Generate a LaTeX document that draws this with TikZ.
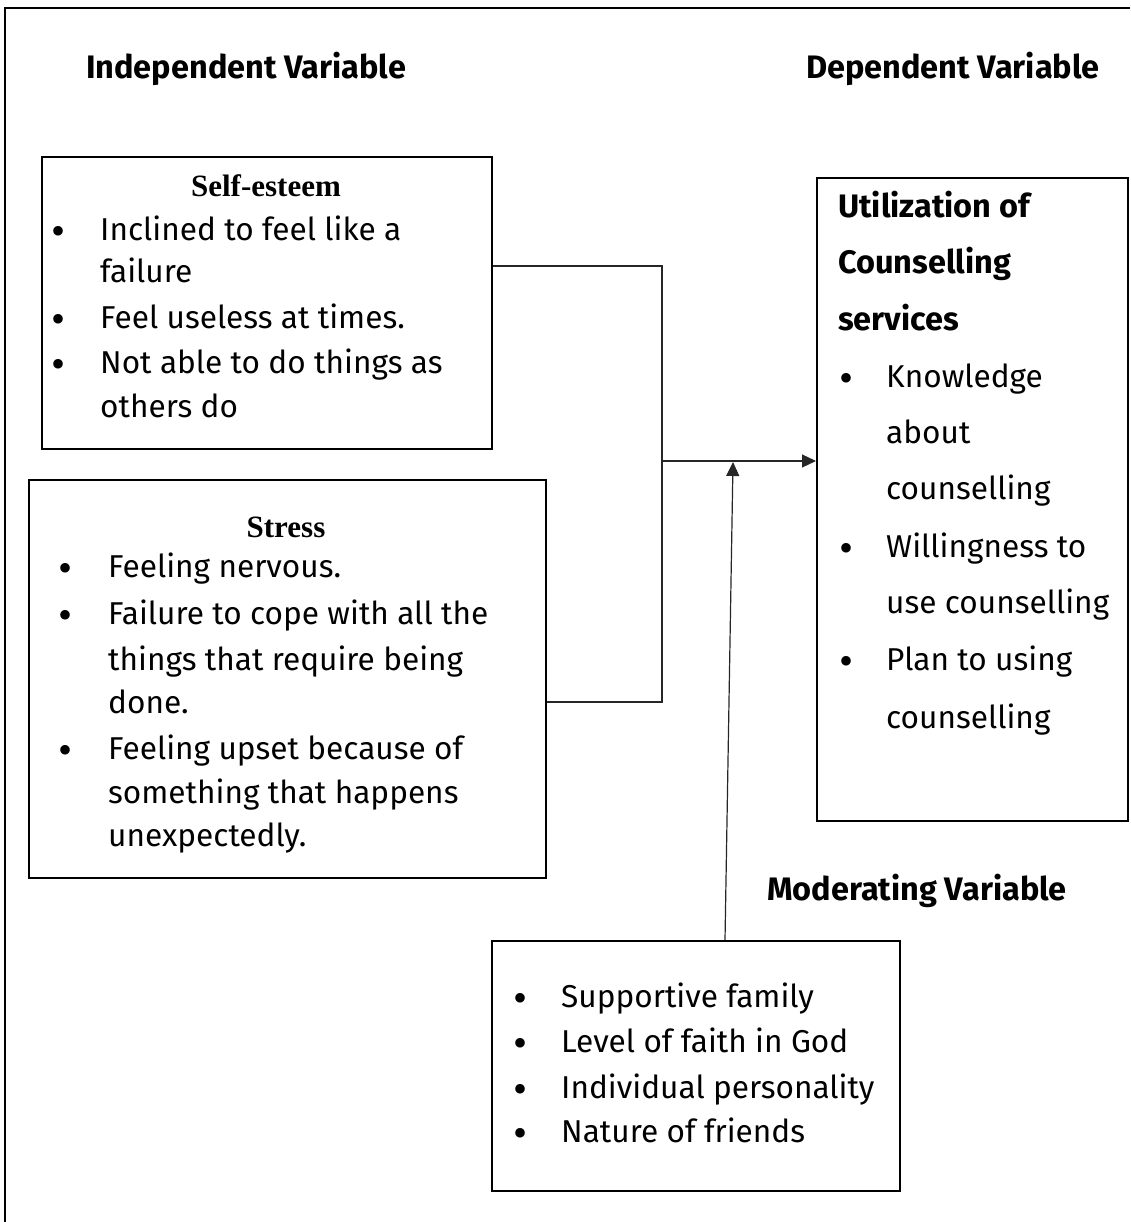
\documentclass[tikz,border=0pt]{standalone}
\usepackage{fontspec}
\setmainfont{Fira Sans}
\newfontfamily\tnr{Liberation Serif}
\usetikzlibrary{arrows.meta}
\newcommand\bodyfont{\fontsize{31.6}{36}\selectfont}
\newcommand\headfont{\fontsize{32.5}{36}\selectfont\bfseries}
\newcommand\titlefont{\fontsize{31}{36}\selectfont\tnr\bfseries}
\newcommand\bulfont{\fontsize{40}{40}\selectfont\tnr}
\tikzset{
  box/.style={draw, line width=2pt, anchor=north west, inner sep=0pt},
  txt/.style={anchor=base west, inner sep=0pt, font=\bodyfont},
  hd/.style={anchor=base west, inner sep=0pt, font=\headfont},
  ttl/.style={anchor=base, inner sep=0pt, font=\titlefont},
  bul/.style={anchor=base, inner sep=0pt, font=\bulfont, yshift=-4pt},
  link/.style={line width=1.2pt, draw=black!85},
  tip/.style={-{Triangle[length=14pt,width=13pt]}}
}
\begin{document}
\begin{tikzpicture}[x=1pt,y=-1pt]
\useasboundingbox (0,0) rectangle (1130,1222);
% outer frame (top and left edges)
\draw[line width=1.5pt] (5,1222) -- (5,8) -- (1130,8);

% headings
\node[hd] (hind) at (86,79) {Independent Variable};
\node[hd] (hdep) at (806,79) {Dependent Variable};
\node[hd] (hmod) at (767,900) {Moderating Variable};

% Self-esteem box
\node[box, minimum width=450pt, minimum height=292pt] (se) at (41,156) {};
\node[ttl] (set) at (266,197) {Self-esteem};
\node[bul] (seb1) at (59,241) {•};
\node[txt] (se1) at (100,241) {Inclined to feel like a};
\node[txt] (se2) at (100,283) {failure};
\node[bul] (seb2) at (59,328) {•};
\node[txt] (se3) at (100,328) {Feel useless at times.};
\node[bul] (seb3) at (59,373) {•};
\node[txt] (se4) at (100,373) {Not able to do things as};
\node[txt] (se5) at (100,417) {others do};

% Stress box
\node[box, minimum width=517pt, minimum height=398pt] (st) at (28,479) {};
\node[ttl] (stt) at (286,537) {Stress};
\node[bul] (stb1) at (66,577) {•};
\node[txt] (st1) at (108,577) {Feeling nervous.};
\node[bul] (stb2) at (66,624) {•};
\node[txt] (st2) at (108,624) {Failure to cope with all the};
\node[txt] (st3) at (108,670) {things that require being};
\node[txt] (st4) at (108,713) {done.};
\node[bul] (stb3) at (66,759) {•};
\node[txt] (st5) at (108,759) {Feeling upset because of};
\node[txt] (st6) at (108,803) {something that happens};
\node[txt] (st7) at (108,846) {unexpectedly.};

% Utilization box
\node[box, minimum width=311pt, minimum height=643pt] (ut) at (816,177) {};
\node[hd] (ut1) at (838,218) {Utilization of};
\node[hd] (ut2) at (838,274) {Counselling};
\node[hd] (ut3) at (838,330) {services};
\node[bul] (utb1) at (846,387) {•};
\node[txt] (ut4) at (886,387) {Knowledge};
\node[txt] (ut5) at (886,443) {about};
\node[txt] (ut6) at (886,499) {counselling};
\node[bul] (utb2) at (846,557) {•};
\node[txt] (ut7) at (886,557) {Willingness to};
\node[txt] (ut8) at (886,613) {use counselling};
\node[bul] (utb3) at (846,670) {•};
\node[txt] (ut9) at (886,670) {Plan to using};
\node[txt] (ut10) at (886,728) {counselling};

% Moderating box
\node[box, minimum width=408pt, minimum height=250pt] (md) at (491,940) {};
\node[bul] (mdb1) at (520,1007) {•};
\node[txt] (md1) at (561,1007) {Supportive family};
\node[bul] (mdb2) at (520,1052) {•};
\node[txt] (md2) at (561,1052) {Level of faith in God};
\node[bul] (mdb3) at (520,1098) {•};
\node[txt] (md3) at (561,1098) {Individual personality};
\node[bul] (mdb4) at (520,1142) {•};
\node[txt] (md4) at (561,1142) {Nature of friends};

% connectors
\coordinate (jn) at (662,461);
\coordinate (mt) at (733,462);
\draw[link] ([yshift=-110pt]se.north east) -| (jn);
\draw[link] ([yshift=177pt]st.south east) -| (jn);
\draw[link, tip] (jn) -- (jn -| ut.west);
\draw[link, tip] ([xshift=29pt]md.north) -- (mt);
\end{tikzpicture}
\end{document}
